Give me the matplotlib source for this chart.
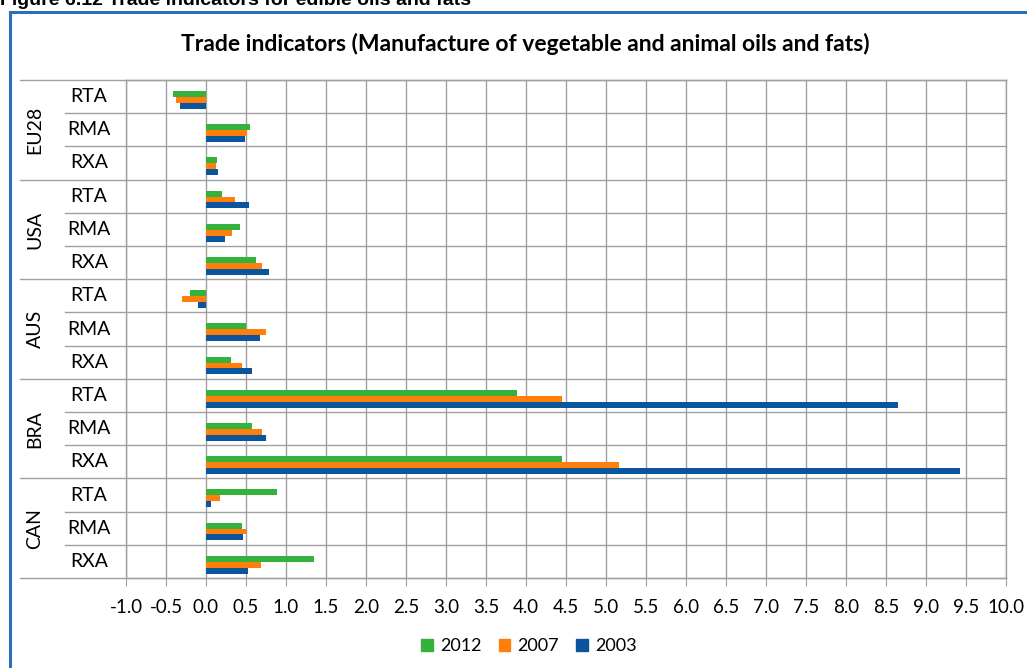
import numpy as np
import matplotlib
matplotlib.use('Agg')
import matplotlib.pyplot as plt
from matplotlib.patches import Patch
from matplotlib.lines import Line2D

plt.rcParams['font.family'] = ['Lato', 'DejaVu Sans']

# trade indicators per country, three indicators each
groups = ['EU28', 'USA', 'AUS', 'BRA', 'CAN']
indicators = ['RTA', 'RMA', 'RXA']
years = ['2012', '2007', '2003']
v2012 = [-0.41, 0.55, 0.14, 0.20, 0.42, 0.62, -0.20, 0.50, 0.31, 3.89, 0.58, 4.45, 0.89, 0.45, 1.35]
v2007 = [-0.38, 0.51, 0.12, 0.36, 0.33, 0.70, -0.30, 0.75, 0.45, 4.45, 0.70, 5.16, 0.18, 0.50, 0.69]
v2003 = [-0.33, 0.49, 0.15, 0.54, 0.24, 0.79, -0.10, 0.68, 0.58, 8.65, 0.75, 9.42, 0.06, 0.46, 0.52]
colors = ['#35b23b', '#ff7f0a', '#0b559f']

W, H = 1027, 668
fig = plt.figure(figsize=(W / 100, H / 100), dpi=100)

# outer chart frame (blue edge top and left)
fig.add_artist(Line2D([10 / W, 10 / W], [0, 1 - 12 / H], color='#2b6fb8', lw=2.2))
fig.add_artist(Line2D([10 / W, 1], [1 - 12 / H, 1 - 12 / H], color='#2b6fb8', lw=2.2))

fig.text(0.0, 1 - 5 / H, 'Figure 6.12 Trade indicators for edible oils and fats',
         fontsize=14, fontweight='bold', family=['Liberation Sans', 'DejaVu Sans'],
         ha='left', va='baseline')
fig.text(525 / W, 1 - 44 / H, 'Trade indicators (Manufacture of vegetable and animal oils and fats)',
         fontsize=16.5, fontweight='bold', ha='center', va='center')

left, right, top, bottom = 126, 1006, 80, 578
ax = fig.add_axes([left / W, 1 - bottom / H, (right - left) / W, (bottom - top) / H])

n = len(groups) * len(indicators)
rows = np.arange(n)
bh = 0.178
off = 0.1
for k, (vals, c) in enumerate(zip([v2012, v2007, v2003], colors)):
    ax.barh(rows + off + (k - 1) * bh, vals, height=bh, color=c, zorder=3)

ax.set_xlim(-1.0, 10.0)
ax.set_ylim(n - 0.5, -0.5)
ax.set_xticks(np.arange(-1.0, 10.01, 0.5))
ax.set_xticklabels(['%.1f' % t for t in np.arange(-1.0, 10.01, 0.5)], fontsize=13.5)
ax.set_yticks([])
ax.tick_params(axis='x', length=6, color='#a0a0a0', pad=9, direction='out')
ax.grid(axis='x', color='#a0a0a0', lw=1, zorder=0)
for s in ax.spines.values():
    s.set_color('#a0a0a0')
    s.set_linewidth(1)

# row separators, longer ones between countries
trans = ax.get_yaxis_transform()
for b in np.arange(-0.5, n, 1.0):
    x0 = (20 - left) / (right - left) if (b + 0.5) % 3 == 0 else (65 - left) / (right - left)
    ax.add_line(Line2D([x0, 1], [b, b], transform=trans, color='#a0a0a0', lw=1,
                       clip_on=False, zorder=1))

for i in rows:
    ax.text((89 - left) / (right - left), i, indicators[i % 3], transform=trans,
            ha='center', va='center', fontsize=14)
for g, name in enumerate(groups):
    ax.text((35 - left) / (right - left), g * 3 + 1, name, transform=trans,
            ha='center', va='center', fontsize=14, rotation=90)

handles = [Patch(color=c) for c in colors]
fig.legend(handles, years, loc='center', bbox_to_anchor=(529 / W, 1 - 646 / H), ncol=3,
           frameon=False, fontsize=13, handlelength=0.65, handleheight=0.65,
           handletextpad=0.4, columnspacing=0.95)

fig.savefig('out.png', dpi=100)
